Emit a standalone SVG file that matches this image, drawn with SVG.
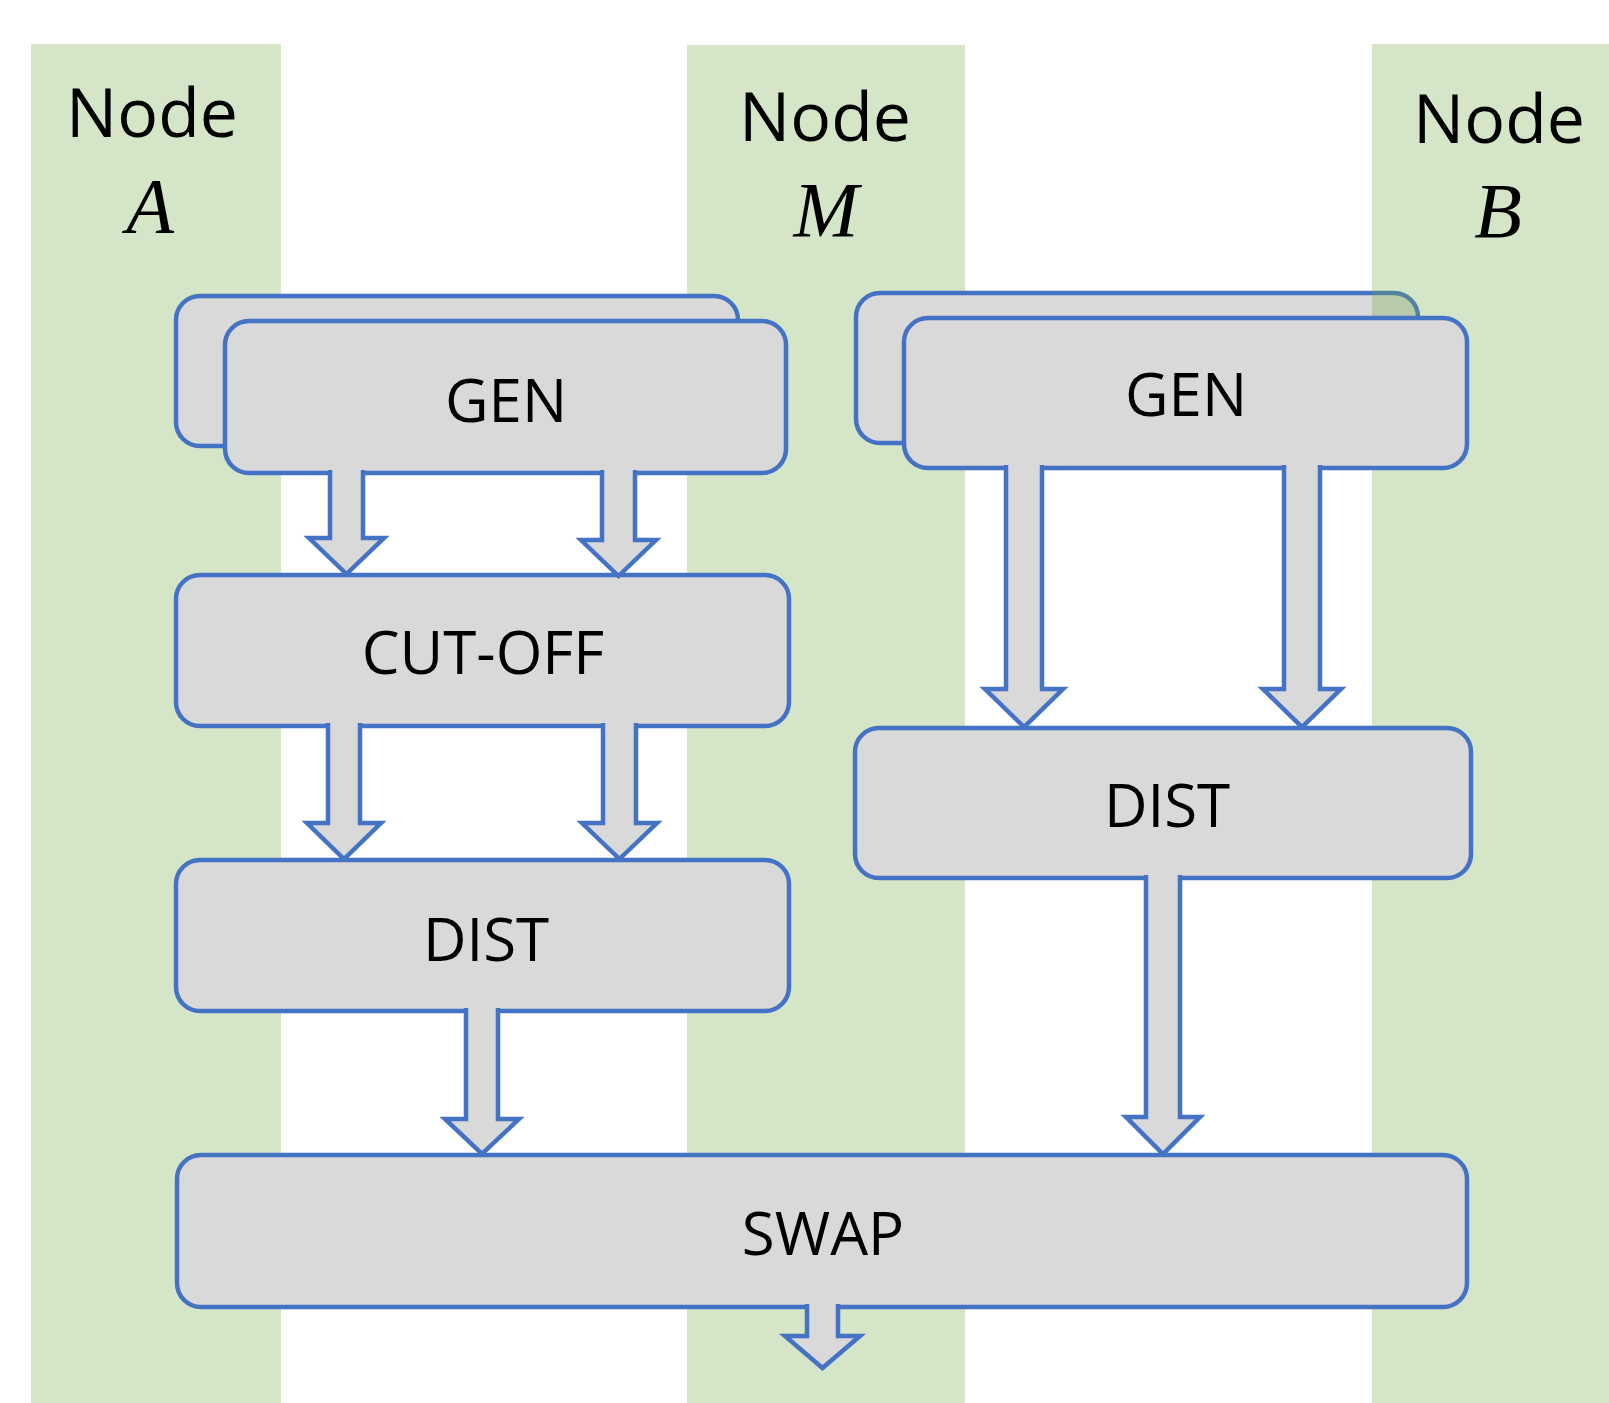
<svg xmlns="http://www.w3.org/2000/svg" width="1609" height="1403" viewBox="0 0 1609 1403">
<style>
.col{fill:#70AD47;fill-opacity:0.3}
.box{fill:#D9D9D9;stroke:#4472C4;stroke-width:4.5}
.arr{fill:#D9D9D9;stroke:#4472C4;stroke-width:4.5;stroke-linejoin:miter}
.lbl{font-family:"Open Sans","Noto Sans","Liberation Sans",sans-serif;font-size:60px;fill:#000;text-anchor:middle}
.node{font-family:"Open Sans","Noto Sans","Liberation Sans",sans-serif;font-size:68px;fill:#000;text-anchor:middle}
.var{font-family:"Liberation Serif","DejaVu Serif",serif;font-style:italic;font-size:78px;fill:#000;text-anchor:middle}
</style>
<rect width="1609" height="1403" fill="#FFFFFF"/>
<g id="column-A">
<rect class="col" x="31" y="44" width="250" height="1359"/>
<text class="node" x="152" y="137">Node</text>
<text class="var" x="150" y="232">A</text>
</g>
<g id="column-M">
<rect class="col" x="687" y="45" width="278" height="1358"/>
<text class="node" x="825" y="141">Node</text>
<text class="var" x="826" y="236">M</text>
</g>
<g id="gen-A">
<rect class="box" x="176" y="296" width="562" height="150" rx="24"/>
<rect class="box" x="225" y="321" width="561" height="152" rx="24"/>
<text class="lbl" x="506" y="422">GEN</text>
</g>
<g id="gen-B-back">
<rect class="box" x="856" y="293" width="562" height="150" rx="24"/>
</g>
<g id="column-B">
<rect class="col" x="1372" y="44" width="237" height="1359"/>
<text class="node" x="1499" y="143">Node</text>
<text class="var" x="1498" y="237">B</text>
</g>
<g id="gen-B">
<rect class="box" x="904" y="318" width="563" height="150" rx="24"/>
<text class="lbl" x="1186" y="416">GEN</text>
</g>
<g id="cut-off">
<rect class="box" x="176" y="575" width="613" height="151" rx="24"/>
<text class="lbl" x="483" y="674">CUT-OFF</text>
</g>
<g id="dist-A">
<rect class="box" x="176" y="860" width="613" height="151" rx="24"/>
<text class="lbl" x="486" y="961">DIST</text>
</g>
<g id="dist-B">
<rect class="box" x="855" y="728" width="616" height="150" rx="24"/>
<text class="lbl" x="1167" y="827">DIST</text>
</g>
<g id="swap">
<rect class="box" x="177" y="1155" width="1290" height="152" rx="24"/>
<text class="lbl" x="823" y="1255">SWAP</text>
</g>
<g id="connectors">
<path class="arr" d="M330,470 V538 H309 L346.5,574 L384,538 H363 V470"/>
<path class="arr" d="M602,470 V540 H581 L618.5,576 L656,540 H635 V470"/>
<path class="arr" d="M328,723 V823 H307 L344,859 L381,823 H360 V723"/>
<path class="arr" d="M603,723 V823 H582 L619.5,859 L657,823 H636 V723"/>
<path class="arr" d="M466,1008 V1119 H445 L482,1154 L519,1119 H498 V1008"/>
<path class="arr" d="M1006,465 V689 H985 L1024,727 L1063,689 H1042 V465"/>
<path class="arr" d="M1284,465 V689 H1263 L1302,727 L1341,689 H1320 V465"/>
<path class="arr" d="M1146,875 V1117 H1126 L1163,1154 L1200,1117 H1180 V875"/>
<path class="arr" d="M807,1304 V1336 H785 L822.5,1368 L860,1336 H838 V1304"/>
</g>
</svg>
